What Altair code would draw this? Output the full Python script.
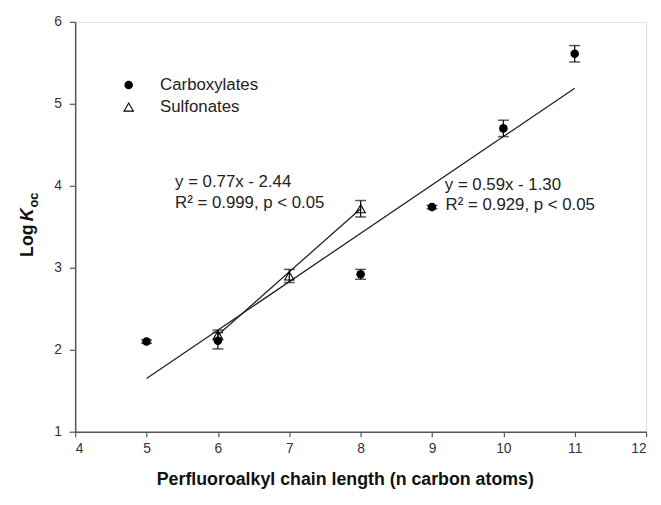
import altair as alt
import pandas as pd

# ---- data ----
carb_x = [5, 6, 8, 9, 10, 11]
carb_y = [2.10, 2.11, 2.92, 3.74, 4.70, 5.61]
carb_err = [0.02, 0.10, 0.06, 0.02, 0.10, 0.10]

sulf_x = [6, 7, 8]
sulf_y = [2.18, 2.90, 3.72]
sulf_err = [0.06, 0.08, 0.10]

carb_fit_x = [5, 11]
carb_fit_y = [1.65, 5.19]
sulf_fit_x = [6, 8]
sulf_fit_y = [2.18, 3.72]

x_ticks = [4, 5, 6, 7, 8, 9, 10, 11, 12]
y_ticks = [1, 2, 3, 4, 5, 6]

legend_labels = ["Carboxylates", "Sulfonates"]
legend_x = [4.75, 4.75]
legend_y = [5.23, 4.96]
legend_text_x = 5.19

ann_text = ["y = 0.77x - 2.44", "R\u00b2 = 0.999, p < 0.05",
            "y = 0.59x - 1.30", "R\u00b2 = 0.929, p < 0.05"]
ann_x = [5.40, 5.40, 9.18, 9.19]
ann_y = [4.04, 3.79, 4.01, 3.76]

FONT = "Liberation Sans"

carb = pd.DataFrame({"x": carb_x, "y": carb_y,
                     "lo": [a - b for a, b in zip(carb_y, carb_err)],
                     "hi": [a + b for a, b in zip(carb_y, carb_err)]})
sulf = pd.DataFrame({"x": sulf_x, "y": sulf_y,
                     "lo": [a - b for a, b in zip(sulf_y, sulf_err)],
                     "hi": [a + b for a, b in zip(sulf_y, sulf_err)]})
fits = pd.DataFrame({"x": carb_fit_x + sulf_fit_x,
                     "y": carb_fit_y + sulf_fit_y,
                     "g": ["c", "c", "s", "s"]})
leg_pts = pd.DataFrame({"x": legend_x, "y": legend_y, "label": legend_labels})
leg_txt = pd.DataFrame({"x": [legend_text_x] * 2, "y": legend_y, "label": legend_labels})
ann = pd.DataFrame({"x": ann_x, "y": ann_y, "t": ann_text})

xscale = alt.Scale(domain=[4, 12], nice=False, zero=False)
yscale = alt.Scale(domain=[1, 6], nice=False, zero=False)

xaxis = alt.Axis(values=x_ticks, format="d", grid=False,
                 title="Perfluoroalkyl chain length (n carbon atoms)",
                 titleFontSize=18, titleFontWeight="bold", titleColor="#111",
                 titleX=273, titleY=48, titleBaseline="middle", titleAlign="center",
                 labelFontSize=14, labelColor="#333", labelPadding=5,
                 tickSize=5, tickColor="#555", domainColor="#555",
                 domainWidth=1.5, tickWidth=1.2, labelFont=FONT, titleFont=FONT)
yaxis = alt.Axis(values=y_ticks, format="d", grid=False, title=None,
                 labelFontSize=14, labelColor="#333", labelPadding=8,
                 tickSize=6, tickColor="#555", domainColor="#555",
                 domainWidth=1.5, tickWidth=1.2, labelFont=FONT)

X = lambda: alt.X("x:Q", scale=xscale, axis=xaxis)
Y = lambda: alt.Y("y:Q", scale=yscale, axis=yaxis)

lines = alt.Chart(fits).mark_line(color="#222", strokeWidth=1.3).encode(
    x=X(), y=Y(), detail="g:N")

def errbars(df):
    rule = alt.Chart(df).mark_rule(color="#111", strokeWidth=1.3).encode(
        x=X(), y=alt.Y("lo:Q", scale=yscale, axis=yaxis), y2="hi:Q")
    cap_lo = alt.Chart(df).mark_tick(orient="horizontal", size=11, thickness=1.5,
                                     color="#111").encode(
        x=X(), y=alt.Y("lo:Q", scale=yscale, axis=yaxis))
    cap_hi = alt.Chart(df).mark_tick(orient="horizontal", size=11, thickness=1.5,
                                     color="#111").encode(
        x=X(), y=alt.Y("hi:Q", scale=yscale, axis=yaxis))
    return rule + cap_lo + cap_hi

carb_pts = alt.Chart(carb).mark_point(shape="circle", filled=True, size=75,
                                      color="#000", opacity=1).encode(x=X(), y=Y())
sulf_pts = alt.Chart(sulf).mark_point(shape="triangle-up", filled=False, size=90,
                                      color="#000", strokeWidth=1.1, opacity=1).encode(x=X(), y=Y())

leg_c = alt.Chart(leg_pts.iloc[[0]]).mark_point(shape="circle", filled=True, size=75,
                                                color="#000", opacity=1).encode(x=X(), y=Y())
leg_s = alt.Chart(leg_pts.iloc[[1]]).mark_point(shape="triangle-up", filled=False, size=90,
                                                color="#000", strokeWidth=1.1, opacity=1).encode(x=X(), y=Y())
leg_t = alt.Chart(leg_txt).mark_text(align="left", baseline="middle", fontSize=17,
                                     font=FONT, color="#222").encode(
    x=X(), y=Y(), text="label:N")

ann_t = alt.Chart(ann).mark_text(align="left", baseline="middle", fontSize=17,
                                 font=FONT, color="#222").encode(
    x=X(), y=Y(), text="t:N")

# y-axis title "Log K_oc" with italic K and subscript oc
ytitle_df = pd.DataFrame({"k": [0]})
yt_log = alt.Chart(ytitle_df).mark_text(angle=270, align="left", baseline="alphabetic",
                                        fontSize=18, fontWeight="bold", font=FONT,
                                        color="#111").encode(
    x=alt.value(-43), y=alt.value(238), text=alt.value("Log"))
yt_k = alt.Chart(ytitle_df).mark_text(angle=270, align="left", baseline="alphabetic",
                                      fontSize=18, fontWeight="bold", fontStyle="italic",
                                      font=FONT, color="#111").encode(
    x=alt.value(-43), y=alt.value(202), text=alt.value("K"))
yt_oc = alt.Chart(ytitle_df).mark_text(angle=270, align="left", baseline="alphabetic",
                                       fontSize=13, fontWeight="bold", font=FONT,
                                       color="#111").encode(
    x=alt.value(-38), y=alt.value(188), text=alt.value("oc"))

chart = alt.layer(
    lines, errbars(carb), errbars(sulf), carb_pts, sulf_pts,
    leg_c, leg_s, leg_t, ann_t, yt_log, yt_k, yt_oc
).properties(
    width=578, height=415,
    autosize=alt.AutoSizeParams(type="none"),
    padding={"left": 68, "top": 11, "right": 7, "bottom": 56},
    background="white",
).configure_view(stroke=None).configure(font=FONT)

chart.save("out.html", embed_options={"renderer": "svg", "actions": False})
